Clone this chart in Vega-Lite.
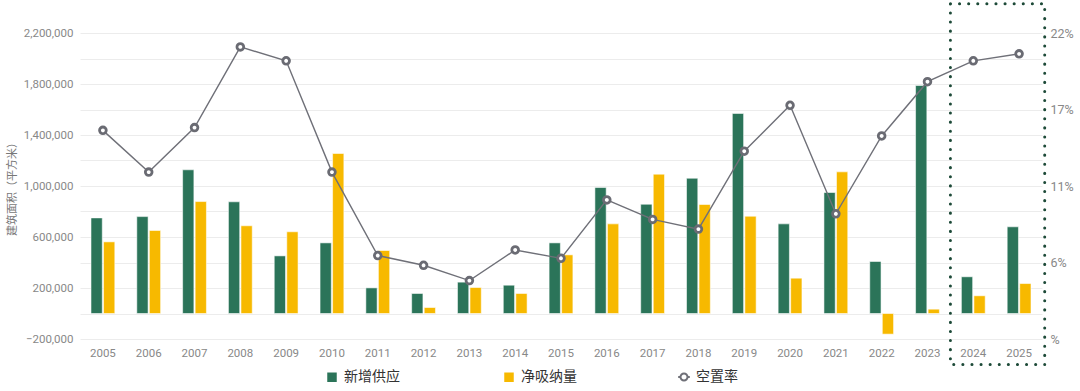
{
  "$schema": "https://vega.github.io/schema/vega-lite/v6.json",
  "autosize": "none",
  "width": 962,
  "height": 306,
  "padding": {"left": 80, "top": 33, "right": 38, "bottom": 52},
  "background": "white",
  "config": {
    "font": "Roboto, Noto Sans CJK SC",
    "view": {"stroke": null},
    "axis": {"labelColor": "#888888", "labelFontWeight": "normal", "ticks": false, "domain": false}
  },
  "datasets": {
    "bars": [
      {"year": "2005", "series": "新增供应", "value": 750000}, {"year": "2005", "series": "净吸纳量", "value": 562000},
      {"year": "2006", "series": "新增供应", "value": 760000}, {"year": "2006", "series": "净吸纳量", "value": 651000},
      {"year": "2007", "series": "新增供应", "value": 1127000}, {"year": "2007", "series": "净吸纳量", "value": 878000},
      {"year": "2008", "series": "新增供应", "value": 876000}, {"year": "2008", "series": "净吸纳量", "value": 688000},
      {"year": "2009", "series": "新增供应", "value": 452000}, {"year": "2009", "series": "净吸纳量", "value": 641000},
      {"year": "2010", "series": "新增供应", "value": 554000}, {"year": "2010", "series": "净吸纳量", "value": 1255000},
      {"year": "2011", "series": "新增供应", "value": 201000}, {"year": "2011", "series": "净吸纳量", "value": 494000},
      {"year": "2012", "series": "新增供应", "value": 157000}, {"year": "2012", "series": "净吸纳量", "value": 47000},
      {"year": "2013", "series": "新增供应", "value": 246000}, {"year": "2013", "series": "净吸纳量", "value": 204000},
      {"year": "2014", "series": "新增供应", "value": 222000}, {"year": "2014", "series": "净吸纳量", "value": 157000},
      {"year": "2015", "series": "新增供应", "value": 554000}, {"year": "2015", "series": "净吸纳量", "value": 460000},
      {"year": "2016", "series": "新增供应", "value": 988000}, {"year": "2016", "series": "净吸纳量", "value": 703000},
      {"year": "2017", "series": "新增供应", "value": 857000}, {"year": "2017", "series": "净吸纳量", "value": 1093000},
      {"year": "2018", "series": "新增供应", "value": 1061000}, {"year": "2018", "series": "净吸纳量", "value": 855000},
      {"year": "2019", "series": "新增供应", "value": 1569000}, {"year": "2019", "series": "净吸纳量", "value": 763000},
      {"year": "2020", "series": "新增供应", "value": 703000}, {"year": "2020", "series": "净吸纳量", "value": 277000},
      {"year": "2021", "series": "新增供应", "value": 949000}, {"year": "2021", "series": "净吸纳量", "value": 1111000},
      {"year": "2022", "series": "新增供应", "value": 408000}, {"year": "2022", "series": "净吸纳量", "value": -162000},
      {"year": "2023", "series": "新增供应", "value": 1788000}, {"year": "2023", "series": "净吸纳量", "value": 34000},
      {"year": "2024", "series": "新增供应", "value": 288000}, {"year": "2024", "series": "净吸纳量", "value": 139000},
      {"year": "2025", "series": "新增供应", "value": 680000}, {"year": "2025", "series": "净吸纳量", "value": 235000}
    ],
    "rate": [
      {"year": "2005", "rate": 15.0}, {"year": "2006", "rate": 12.0}, {"year": "2007", "rate": 15.2},
      {"year": "2008", "rate": 21.0}, {"year": "2009", "rate": 20.0}, {"year": "2010", "rate": 12.0},
      {"year": "2011", "rate": 6.0}, {"year": "2012", "rate": 5.3}, {"year": "2013", "rate": 4.2},
      {"year": "2014", "rate": 6.4}, {"year": "2015", "rate": 5.8}, {"year": "2016", "rate": 10.0},
      {"year": "2017", "rate": 8.6}, {"year": "2018", "rate": 7.9}, {"year": "2019", "rate": 13.5},
      {"year": "2020", "rate": 16.8}, {"year": "2021", "rate": 9.0}, {"year": "2022", "rate": 14.6},
      {"year": "2023", "rate": 18.5}, {"year": "2024", "rate": 20.0}, {"year": "2025", "rate": 20.5}
    ],
    "box": [
      {"from": "2024", "to": "2025", "top": 2430000, "bottom": -400000}
    ]
  },
  "layer": [
    {
      "data": {"name": "bars"},
      "mark": {"type": "bar", "stroke": "white", "strokeWidth": 0.8, "strokeOpacity": 0.7},
      "encoding": {
        "x": {
          "field": "year", "type": "ordinal", "sort": null,
          "scale": {"paddingInner": 0.48, "paddingOuter": 0.24},
          "axis": {"title": null, "labelAngle": 0, "labelFontSize": 11.5, "labelPadding": 8}
        },
        "xOffset": {"field": "series", "type": "nominal", "sort": ["新增供应", "净吸纳量"], "scale": {"domain": ["新增供应", "净吸纳量"], "paddingInner": 0.1}},
        "y": {
          "field": "value", "type": "quantitative",
          "scale": {"domain": [-200000, 2200000], "nice": false, "zero": false},
          "axis": {
            "title": "建筑面积（平方米）", "titleFontSize": 11, "titleColor": "#777777", "titleFontWeight": "normal", "titlePadding": 6,
            "values": [-200000, 0, 200000, 400000, 600000, 800000, 1000000, 1200000, 1400000, 1600000, 1800000, 2000000, 2200000],
            "labelExpr": "(datum.value + 200000) % 400000 == 0 ? format(datum.value, ',') : ''",
            "labelFontSize": 11.5, "labelPadding": 7,
            "grid": true, "gridColor": "#ececec", "gridWidth": 1
          }
        },
        "color": {
          "field": "series", "type": "nominal",
          "scale": {"domain": ["新增供应", "净吸纳量"], "range": ["#2b7459", "#f7b900"]},
          "legend": {
            "title": null, "orient": "none", "legendX": 245, "legendY": 337, "direction": "horizontal",
            "columnPadding": 100, "labelFontSize": 14, "labelColor": "#333333", "symbolSize": 121, "labelOffset": 5,
            "symbolType": "square", "symbolOpacity": 1
          }
        }
      }
    },
    {
      "data": {"name": "rate"},
      "layer": [
        {
          "mark": {"type": "line", "strokeWidth": 1.4},
          "encoding": {
            "x": {"field": "year", "type": "ordinal", "sort": null, "axis": {"title": null}},
            "y": {
              "field": "rate", "type": "quantitative",
              "scale": {"domain": [0, 22], "nice": false, "zero": true},
              "axis": {
                "orient": "right", "title": null, "grid": false,
                "values": [0, 5.5, 11, 16.5, 22],
                "labelExpr": "datum.value == 0 ? '%' : format(round(datum.value), 'd') + '%'",
                "labelFontSize": 12.5, "labelPadding": 8
              }
            },
            "stroke": {
              "datum": "空置率", "type": "nominal",
              "scale": {"domain": ["空置率"], "range": ["#6f7078"]},
              "legend": {
                "title": null, "orient": "none", "legendX": 597, "legendY": 337, "direction": "horizontal",
                "labelFontSize": 14, "labelColor": "#333333", "symbolSize": 135, "labelOffset": 5,
                "symbolType": "M-1,0L-0.6,0M0.6,0L1,0M-0.6,0A0.6,0.6,0,1,0,0.6,0A0.6,0.6,0,1,0,-0.6,0",
                "symbolFillColor": "transparent", "symbolStrokeWidth": 2, "symbolOpacity": 1
              }
            }
          }
        },
        {
          "mark": {"type": "point", "filled": true, "fill": "white", "stroke": "#6a6b73", "strokeWidth": 2.8, "size": 45, "opacity": 1},
          "encoding": {
            "x": {"field": "year", "type": "ordinal", "sort": null},
            "y": {"field": "rate", "type": "quantitative"}
          }
        }
      ]
    },
    {
      "data": {"name": "box"},
      "mark": {"type": "rect", "fill": "transparent", "stroke": "#1d4a38", "strokeWidth": 3, "strokeDash": [0.1, 9], "strokeCap": "round", "clip": false},
      "encoding": {
        "x": {"field": "from", "type": "ordinal", "bandPosition": -0.46},
        "x2": {"field": "to", "bandPosition": 1.575},
        "y": {"field": "top", "type": "quantitative", "scale": {"domain": [-200000, 2200000], "nice": false, "zero": false}, "axis": null},
        "y2": {"field": "bottom"}
      }
    }
  ],
  "resolve": {"scale": {"y": "independent"}}
}
